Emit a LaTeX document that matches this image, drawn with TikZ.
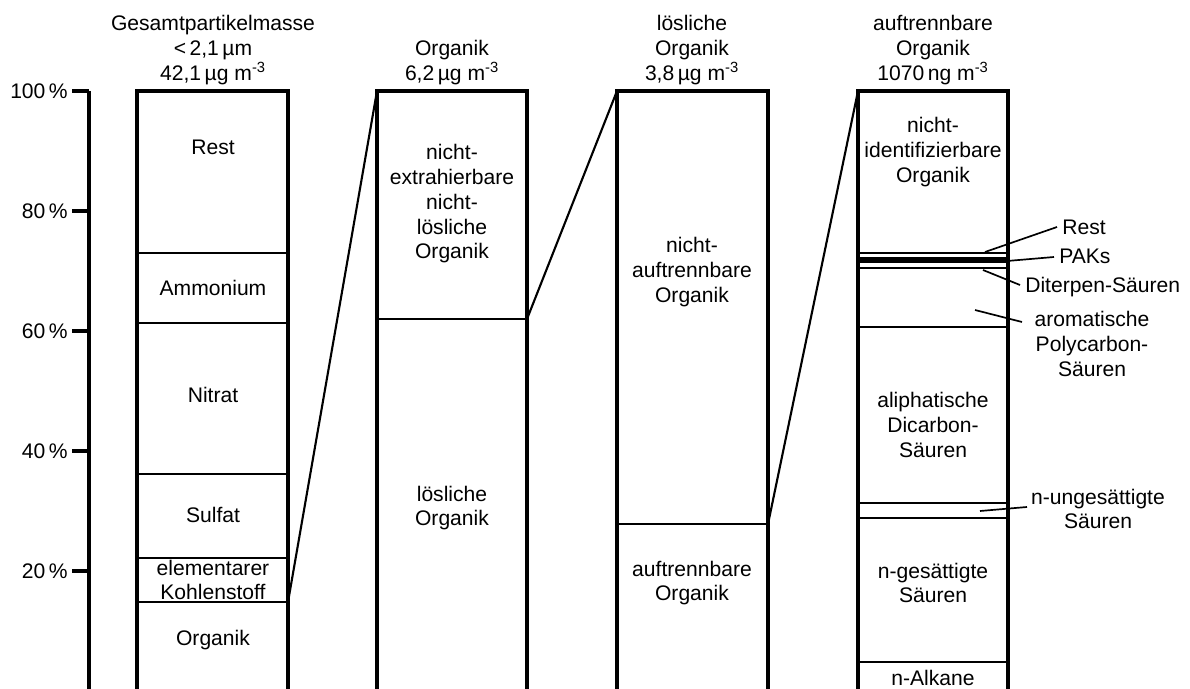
\documentclass[tikz,border=0pt]{standalone}
\usepackage{fontspec}
\setmainfont{Liberation Sans}
\usetikzlibrary{calc}

\begin{document}
\begin{tikzpicture}[x=0.025cm, y=-0.025cm,
	frame/.style={line width=2.4pt},
	sep/.style={line width=2pt},
	leader/.style={line width=1.2pt},
	zoomline/.style={line width=1.5pt},
	txt/.style={font=\fontsize{15}{17.6}\selectfont, align=center, inner sep=0pt}]
	\useasboundingbox (0,0) rectangle (1190,689);
	% Achse
	\draw[frame] (89,91) -- (89,689);
	\foreach \p/\yy in {100/91, 80/211, 60/331, 40/451, 20/571} {
		\draw[frame] (72,\yy) -- (89,\yy);
		\node[txt, anchor=east] (tick\p) at (68,\yy) {\p\,\%};
	}
	% Saeulen
	\draw[frame] (137,689) -- (137,91) -- (288,91) -- (288,689);
	\draw[frame] (377,689) -- (377,91) -- (527,91) -- (527,689);
	\draw[frame] (617,689) -- (617,91) -- (768,91) -- (768,689);
	\draw[frame] (858,689) -- (858,91) -- (1008,91) -- (1008,689);
	% Titel
	\node[txt, anchor=south] (t1) at (213,85) {Gesamtpartikelmasse\\<\,2,1\,µm\\42,1\,µg m\textsuperscript{-3}};
	\node[txt, anchor=south] (t2) at (452,85) {Organik\\6,2\,µg m\textsuperscript{-3}};
	\node[txt, anchor=south] (t3) at (692,85) {lösliche\\Organik\\3,8\,µg m\textsuperscript{-3}};
	\node[txt, anchor=south] (t4) at (933,85) {auftrennbare\\Organik\\1070\,ng m\textsuperscript{-3}};
	% Gesamtpartikelmasse
	\draw[sep] (137,253) -- (288,253);
	\draw[sep] (137,323) -- (288,323);
	\draw[sep] (137,474) -- (288,474);
	\draw[sep] (137,558) -- (288,558);
	\draw[sep] (137,602) -- (288,602);
	\coordinate (g-oc) at (288,602);
	\node[txt] (g-rest) at (213,147) {Rest};
	\node[txt] (g-amm) at (213,288) {Ammonium};
	\node[txt] (g-nit) at (213,395) {Nitrat};
	\node[txt] (g-sulf) at (213,515) {Sulfat};
	\node[txt] (g-ec) at (213,580) {elementarer\\Kohlenstoff};
	\node[txt] (g-oc-l) at (213,640) {Organik};
	% Organik
	\draw[sep] (377,319) -- (527,319);
	\coordinate (o-top) at (377,91);
	\coordinate (o-woc) at (527,319);
	\node[txt] (o-ne) at (452,204) {nicht-\\extrahierbare\\nicht-\\lösliche\\Organik};
	\node[txt] (o-woc-l) at (452,508) {lösliche\\Organik};
	% loesliche Organik
	\draw[sep] (617,524) -- (768,524);
	\coordinate (w-top) at (617,91);
	\coordinate (w-res) at (768,524);
	\node[txt] (w-na) at (692,272) {nicht-\\auftrennbare\\Organik};
	\node[txt] (w-res-l) at (692,583) {auftrennbare\\Organik};
	% auftrennbare Organik
	\coordinate (r-top) at (858,91);
	\draw[sep] (858,253) -- (1008,253);
	\fill (856,257) rectangle (1008,263);
	\draw[sep] (858,268) -- (1008,268);
	\draw[sep] (858,327) -- (1008,327);
	\draw[sep] (858,503) -- (1008,503);
	\draw[sep] (858,518) -- (1008,518);
	\draw[sep] (858,662) -- (1008,662);
	\node[txt] (r-ni) at (933,152) {nicht-\\identifizierbare\\Organik};
	\node[txt] (r-dca) at (933,425) {aliphatische\\Dicarbon-\\Säuren};
	\node[txt] (r-sfa) at (933,583) {n-gesättigte\\Säuren};
	\node[txt] (r-alk) at (933,678) {n-Alkane};
	\coordinate (r-rest) at (985,252);
	\coordinate (r-pak) at (1007,261);
	\coordinate (r-dit) at (983,270);
	\coordinate (r-arom) at (975,310);
	\coordinate (r-ufa) at (980,511);
	\node[txt, anchor=west] (l-rest) at (1062,227) {Rest};
	\node[txt, anchor=west] (l-pak) at (1059,256) {PAKs};
	\node[txt, anchor=west] (l-dit) at (1025,287) {Diterpen-Säuren};
	\node[txt] (l-arom) at (1092,344) {aromatische\\Polycarbon-\\Säuren};
	\node[txt] (l-ufa) at (1098,509) {n-ungesättigte\\Säuren};
	\draw[leader] (r-rest) -- (1057,227);
	\draw[leader] (r-pak) -- (1054,257);
	\draw[leader] (r-dit) -- (1020,285);
	\draw[leader] (r-arom) -- (1022,322);
	\draw[leader] (r-ufa) -- (1027,507);
	% Verbindungen
	\draw[zoomline] (g-oc) -- (o-top);
	\draw[zoomline] (o-woc) -- (w-top);
	\draw[zoomline] (w-res) -- (r-top);
\end{tikzpicture}
\end{document}
